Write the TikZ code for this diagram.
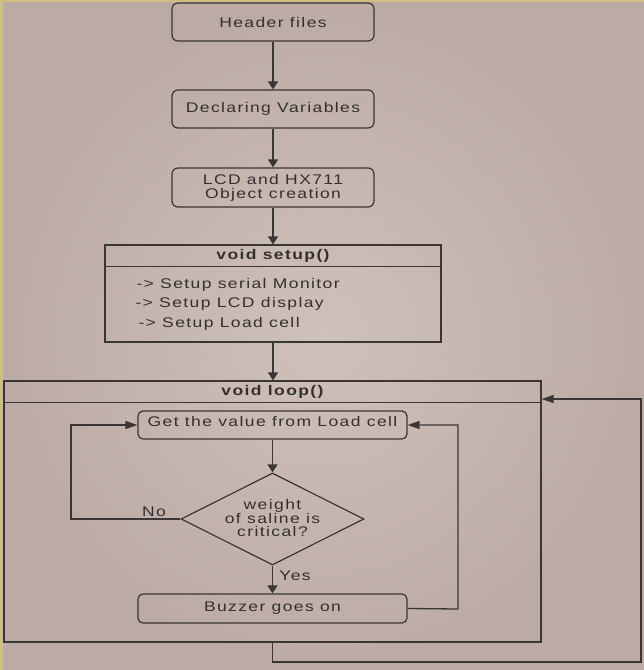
\documentclass[tikz,border=0pt]{standalone}
\usepackage{fontspec}
\setmainfont{Liberation Sans}[FakeStretch=1.25,LetterSpace=10]
\usetikzlibrary{shapes.geometric,arrows.meta,calc}
\definecolor{ln}{RGB}{58,54,54}
\definecolor{tx}{RGB}{52,48,48}
\definecolor{bgin}{RGB}{207,193,186}
\definecolor{bgout}{RGB}{188,171,165}
\definecolor{framec}{RGB}{208,190,128}
\begin{document}
\begin{tikzpicture}[x=1pt,y=-1pt,
  every node/.style={text=tx,font=\fontsize{14}{14}\selectfont},
  rbox/.style={draw=ln,line width=1.2pt,rounded corners=6pt,minimum width=202pt,minimum height=38pt,inner sep=0pt,align=center},
  sbox/.style={draw=ln,line width=1.2pt,inner sep=0pt},
  conn/.style={draw=ln,line width=1.3pt,-{Triangle[length=8pt,width=10pt]}},
  hconn/.style={draw=ln,line width=1.3pt,-{Triangle[length=12pt,width=8pt]}},
  plain/.style={draw=ln,line width=1.2pt},
  boldtxt/.style={font=\bfseries\fontsize{14}{14}\selectfont}]
\fill[framec] (0,0) rectangle (644,670);
\shade[inner color=bgin,outer color=bgout] (3,2) rectangle (644,670);
\useasboundingbox (0,0) rectangle (644,670);

\node[rbox] (hdr) at (273,22) {Header files};
\node[rbox] (decl) at (273,109) {Declaring Variables};
\node[rbox,minimum height=39pt] (lcd) at (273,187.5) {LCD and HX711\\Object creation};

\node[sbox,minimum width=336pt,minimum height=97pt] (setup) at (273,293.5) {};
\draw[plain] ([yshift=-22pt]setup.north west) -- ([yshift=-22pt]setup.north east);
\node[boldtxt] (setupt) at (273,256) {void setup()};
\node[anchor=west] (s1) at (133,285) {-> Setup serial Monitor};
\node[anchor=west] (s2) at (132,304) {-> Setup LCD display};
\node[anchor=west] (s3) at (135,324) {-> Setup Load cell};

\node[sbox,minimum width=537pt,minimum height=261pt] (loop) at (272.5,511.5) {};
\draw[plain] ([yshift=-22pt]loop.north west) -- ([yshift=-22pt]loop.north east);
\node[boldtxt] (loopt) at (272.5,392) {void loop()};

\node[rbox,rounded corners=5pt,minimum width=269pt,minimum height=28pt] (get) at (272.5,425) {\raisebox{7pt}{Get the value from Load cell}};
\node[diamond,draw=ln,line width=1.2pt,minimum width=183pt,minimum height=92pt,inner sep=0pt] (dec) at (272.5,519) {};
\node[align=center,font=\fontsize{14}{13.5}\selectfont] (dect) at (272.5,518) {weight\\of saline is\\critical?};
\node[rbox,rounded corners=5pt,minimum width=269pt,minimum height=29pt] (buzz) at (272.5,608.5) {Buzzer goes on};

\draw[conn] (hdr.south) -- (decl.north);
\draw[conn] (decl.south) -- (lcd.north);
\draw[conn] (lcd.south) -- (setup.north);
\draw[conn] (setup.south) -- (setup.south |- loop.north);
\draw[conn] (get.south) -- (dec.north);
\draw[conn] (dec.south) -- (buzz.north);
\node (yes) at (295,576) {Yes};

\coordinate (nl) at (71,519);
\draw[hconn] (dec.west) -- (nl) |- (get.west);
\node (no) at (154,512) {No};

\coordinate (nr) at (458,609);
\draw[hconn] (buzz.east) -- (nr) |- (get.east);

\coordinate (b1) at (272.5,662);
\coordinate (b2) at (641,662);
\coordinate (b3) at (641,399);
\draw[hconn] (loop.south) -- (b1) -- (b2) -- (b3) -- (loop.east |- b3);
\end{tikzpicture}
\end{document}
